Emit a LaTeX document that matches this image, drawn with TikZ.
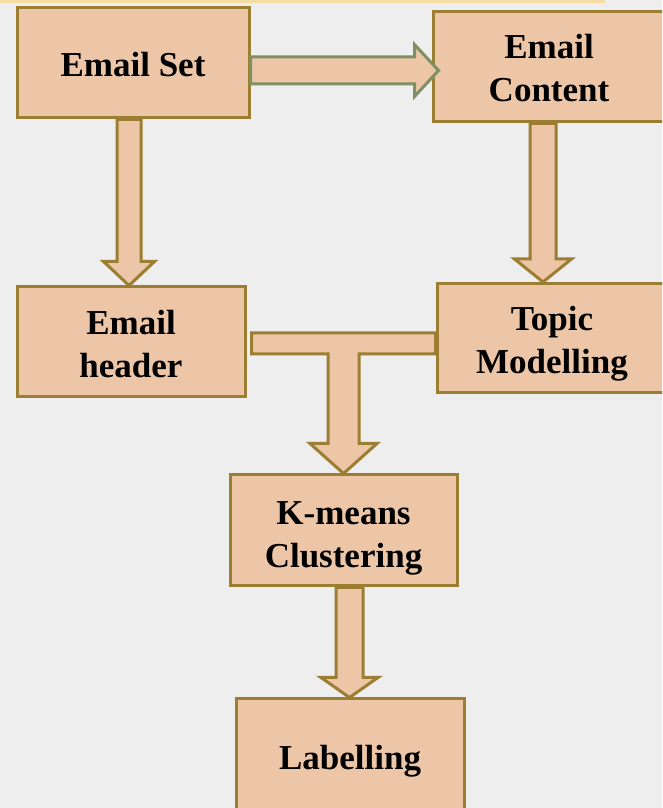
\documentclass[tikz,border=0pt]{standalone}
\usepackage{fontspec}
\setmainfont{Liberation Serif}
\usetikzlibrary{positioning,calc}
\definecolor{boxfill}{HTML}{ECC6A7}
\definecolor{boxline}{HTML}{9C7E32}
\definecolor{arrline}{HTML}{7F9062}
\definecolor{paper}{HTML}{EEEEEE}
\definecolor{topline}{HTML}{F5DDA2}
\tikzset{
	box/.style={draw=boxline, fill=boxfill, line width=3pt, minimum width=228pt, minimum height=110pt, inner sep=0pt, align=center, font=\fontsize{35}{43}\selectfont\bfseries},
	haut/.style={execute at begin node={\rule{0pt}{#1}}},
	blockarrow/.style={draw=boxline, fill=boxfill, line width=3pt, line join=miter}
}
% fleche verticale : depart, pointe, demi-largeur du corps, demi-largeur de la tete, longueur de la tete
\newcommand{\flechebas}[5]{%
	\draw[blockarrow] ($(#1)+(-#3,0)$) -- ($(#1 |- #2)+(-#3,#5)$) -- ($(#1 |- #2)+(-#4,#5)$) -- (#1 |- #2) -- ($(#1 |- #2)+(#4,#5)$) -- ($(#1 |- #2)+(#3,#5)$) -- ($(#1)+(#3,0)$) -- cycle;}

\begin{document}
\begin{tikzpicture}[x=1pt,y=1pt]
\useasboundingbox (0,0) rectangle (662,808);
\clip (0,0) rectangle (662,808);
\fill[paper] (0,0) rectangle (662,808);
\fill[topline] (0,805) rectangle (605,808);

%Boites
\node[box,minimum width=232pt,haut=28pt] (set) at (133,745) {Email Set};
\node[box,minimum width=232pt,haut=69pt] (content) at (549,741) {Email\\Content};
\node[box,haut=71pt] (header) at (131,466) {Email\\header};
\node[box,minimum width=230pt,minimum height=109pt,haut=79pt] (topic) at (552,470) {Topic\\Modelling};
\node[box,minimum width=227pt,minimum height=111pt,haut=81pt] (kmeans) at (343.5,277.5) {K-means\\Clustering};
\node[box,minimum height=111pt,haut=38pt] (label) at (350,53.5) {Labelling};

%Fleche horizontale
\coordinate (h0) at ($(set.east)+(0,-7.5)$);
\coordinate (h1) at ($(content.west)+(7,0)$);
\draw[blockarrow,draw=arrline] ($(h0)+(0,13.5)$) -- ($(h1 |- h0)+(-24,13.5)$) -- ($(h1 |- h0)+(-24,26)$) -- (h1 |- h0) -- ($(h1 |- h0)+(-24,-26)$) -- ($(h1 |- h0)+(-24,-13.5)$) -- ($(h0)+(0,-13.5)$) -- cycle;

%Fleches verticales
\coordinate (s1) at ([xshift=-4pt]set.south);
\flechebas{s1}{header.north}{12}{25.5}{24}
\coordinate (s2) at ([xshift=-6pt]content.south);
\flechebas{s2}{topic.north}{13}{28.5}{23}
\coordinate (s3) at ([xshift=6pt]kmeans.south);
\flechebas{s3}{label.north}{13.5}{28.5}{20}

%Connecteur en T
\coordinate (barG) at ($(header.east)+(5,-1.5)$);
\coordinate (barD) at (topic.west |- barG);
\coordinate (pied) at (kmeans.north |- barG);
\draw[blockarrow] ($(barG)+(0,10.5)$) -- ($(barD)+(0,10.5)$) -- ($(barD)+(0,-10.5)$) -- ($(pied)+(15.5,-10.5)$) -- ($(kmeans.north)+(15.5,30)$) -- ($(kmeans.north)+(33.5,30)$) -- (kmeans.north) -- ($(kmeans.north)+(-33.5,30)$) -- ($(kmeans.north)+(-15.5,30)$) -- ($(pied)+(-15.5,-10.5)$) -- ($(barG)+(0,-10.5)$) -- cycle;

\end{tikzpicture}
\end{document}
